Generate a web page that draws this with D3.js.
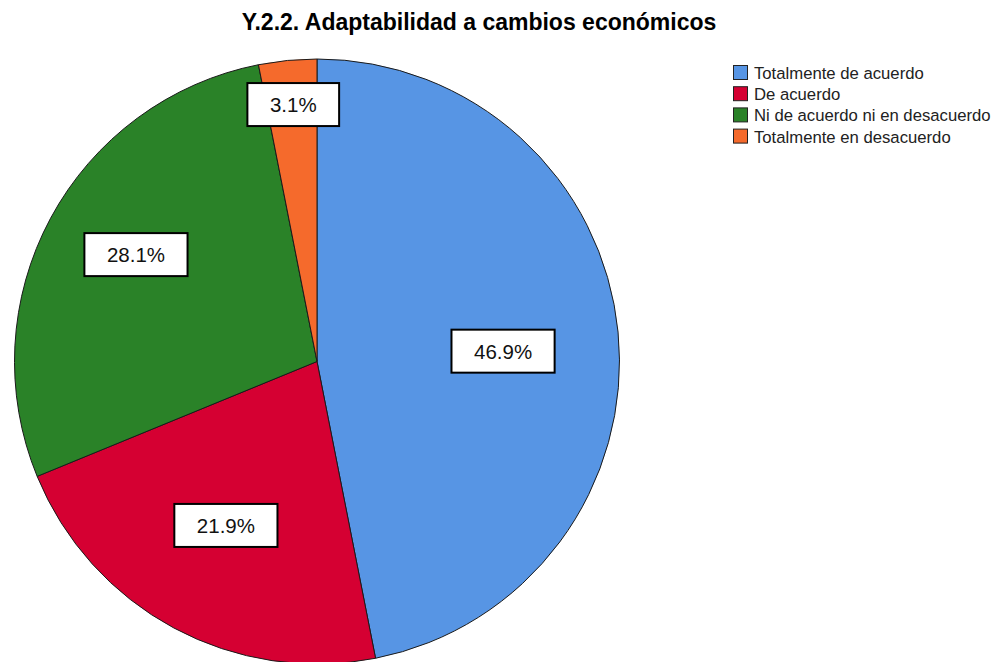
<!DOCTYPE html>
<html>
<head>
<meta charset="utf-8">
<script src="https://cdn.jsdelivr.net/npm/d3@7"></script>
<style>
  body { margin: 0; background: #fff; }
  svg { display: block; font-family: Arial, "Liberation Sans", sans-serif; }
</style>
</head>
<body>
<div id="chart"></div>
<script>
// Datos
const categorias = ["Totalmente de acuerdo", "De acuerdo", "Ni de acuerdo ni en desacuerdo", "Totalmente en desacuerdo"];
const porcentajes = [46.9, 21.9, 28.1, 3.1];
const colores = ["#5795e4", "#d50032", "#2a8228", "#f56a2c"];
const titulo = "Y.2.2. Adaptabilidad a cambios económicos";

// posición de cada etiqueta: fracción del radio y desvío angular (grados)
const posEtiqueta = [0.616, 0.62, 0.695, 0.853];
const desvioEtiqueta = [2.4, 0.8, 2.3, 0.3];

const W = 1007, H = 662;
const cx = 317, cy = 361.5, r = 302.5;

const svg = d3.select("#chart").append("svg")
  .attr("width", W)
  .attr("height", H);

// Titulo
svg.append("text")
  .attr("x", 479)
  .attr("y", 30)
  .attr("text-anchor", "middle")
  .style("font-size", "23px")
  .style("font-weight", "bold")
  .text(titulo);

const datos = categorias.map((c, i) => ({
  cat: c, val: porcentajes[i], color: colores[i],
  lr: posEtiqueta[i], da: desvioEtiqueta[i]
}));

const pie = d3.pie().sort(null).value(d => d.val);
const arc = d3.arc().innerRadius(0).outerRadius(r);

const g = svg.append("g").attr("transform", `translate(${cx},${cy})`);

const arcos = pie(datos);

g.selectAll("path")
  .data(arcos)
  .enter()
  .append("path")
    .attr("d", arc)
    .attr("fill", d => d.data.color)
    .attr("stroke", "#1a1a1a")
    .attr("stroke-width", 1);

// Etiquetas con recuadro blanco
arcos.forEach(d => {
  const a = (d.startAngle + d.endAngle) / 2 + d.data.da * Math.PI / 180;
  const lr = r * d.data.lr;
  const x = Math.sin(a) * lr, y = -Math.cos(a) * lr;
  const lg = g.append("g").attr("transform", `translate(${x},${y})`);
  const rect = lg.append("rect");
  const t = lg.append("text")
    .attr("text-anchor", "middle")
    .attr("dy", "0.36em")
    .style("font-size", "20.5px")
    .style("fill", "#111")
    .text(d.data.val.toFixed(1) + "%");
  const bw = t.node().getBBox().width + 45;
  const bh = 43;
  rect.attr("x", -bw / 2).attr("y", -bh / 2)
    .attr("width", bw).attr("height", bh)
    .attr("fill", "#fff")
    .attr("stroke", "#000")
    .attr("stroke-width", 2);
});

// Leyenda
const leg = svg.append("g").attr("transform", "translate(733,65)");
const item = leg.selectAll("g")
  .data(datos)
  .enter()
  .append("g")
    .attr("transform", (d, i) => `translate(0,${i * 21.2})`);

item.append("rect")
  .attr("x", 0.5).attr("y", 0.5)
  .attr("width", 14).attr("height", 14)
  .attr("fill", d => d.color)
  .attr("stroke", "#222")
  .attr("stroke-width", 1);

item.append("text")
  .attr("x", 21)
  .attr("y", 14)
  .style("font-size", "16.7px")
  .style("fill", "#222")
  .text(d => d.cat);
</script>
</body>
</html>
